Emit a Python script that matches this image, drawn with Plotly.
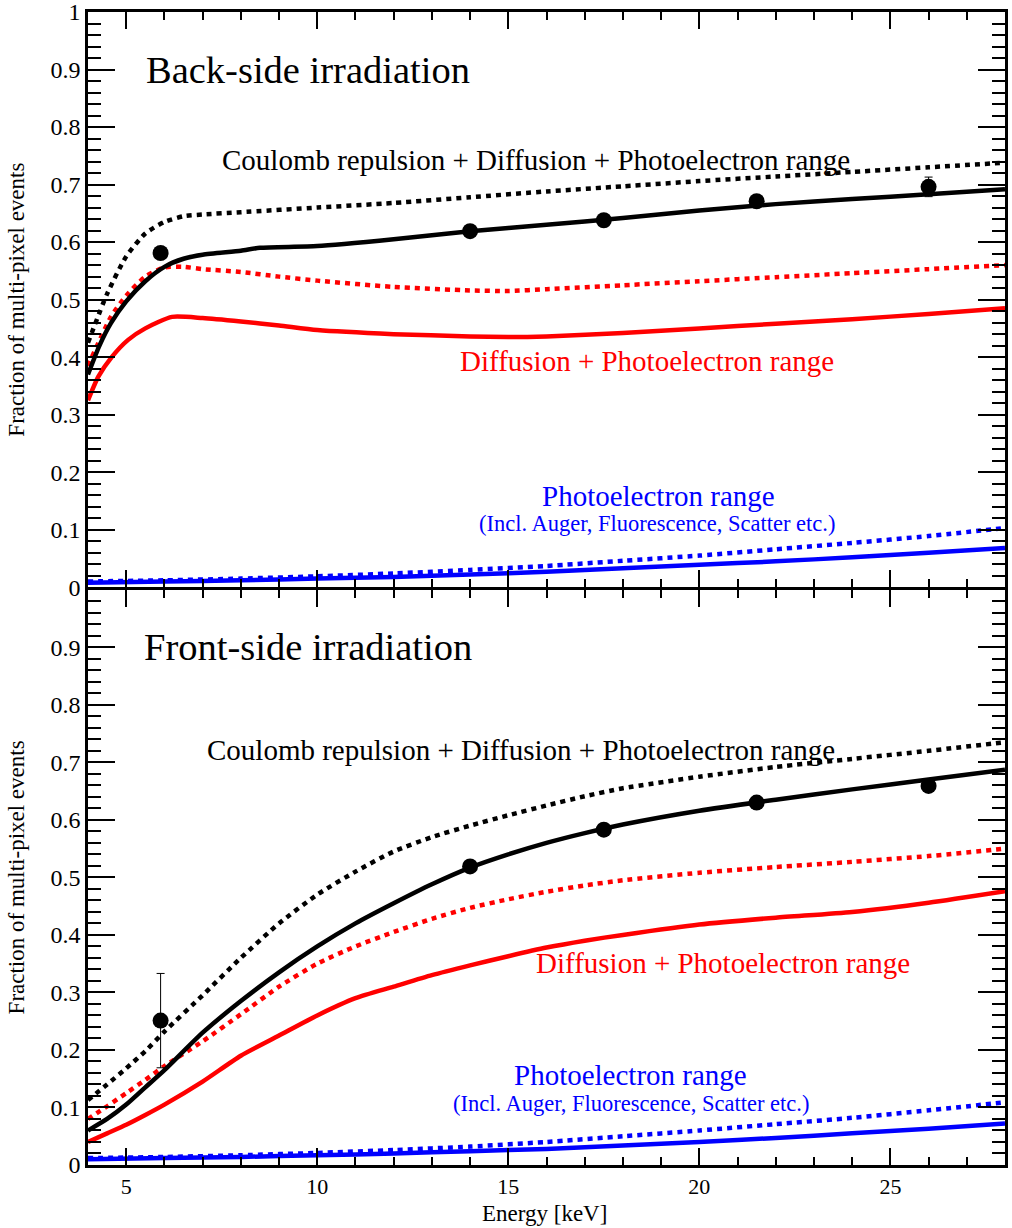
import plotly.graph_objects as go

# ---------------- data ----------------
# Back-side irradiation (top panel)
back_E_data = [5.9, 14.0, 17.5, 21.5, 26.0]
back_frac_data = [0.581, 0.619, 0.638, 0.671, 0.696]
back_frac_err = [0.006, 0.005, 0.005, 0.006, 0.017]

back_E_black_solid = [4, 4.3, 4.6, 5, 5.5, 6, 6.5, 7, 8, 8.5, 10, 12, 14, 16, 18, 20, 22, 24, 26, 28]
back_black_solid = [0.37, 0.42, 0.459, 0.497, 0.532, 0.557, 0.571, 0.578, 0.585, 0.59, 0.593, 0.605, 0.619, 0.63, 0.642, 0.655, 0.666, 0.675, 0.683, 0.692]

back_E_black_dot = [4, 4.5, 5, 5.5, 6, 6.5, 7, 8, 10, 12, 14, 16, 18, 20, 22, 24, 26, 28]
back_black_dot = [0.425, 0.51, 0.575, 0.615, 0.635, 0.645, 0.648, 0.652, 0.66, 0.668, 0.678, 0.688, 0.697, 0.706, 0.714, 0.722, 0.73, 0.738]

back_E_red_dot = [4, 4.6, 5, 5.5, 6, 6.5, 7, 8, 9, 10, 12, 14, 15, 16, 18, 20, 22, 24, 26, 28]
back_red_dot = [0.385, 0.47, 0.507, 0.54, 0.556, 0.557, 0.553, 0.548, 0.54, 0.533, 0.522, 0.516, 0.515, 0.518, 0.525, 0.532, 0.539, 0.546, 0.553, 0.56]

back_E_red_solid = [4, 4.27, 4.62, 5.05, 5.5, 6.2, 7, 8, 9, 10, 12, 14, 15, 16, 18, 20, 22, 24, 26, 28]
back_red_solid = [0.325, 0.366, 0.40, 0.43, 0.45, 0.47, 0.468, 0.462, 0.455, 0.447, 0.44, 0.436, 0.435, 0.436, 0.442, 0.45, 0.458, 0.466, 0.475, 0.485]

back_E_blue = [4, 6, 8, 10, 12, 14, 16, 18, 20, 22, 24, 26, 28]
back_blue_solid = [0.008, 0.01, 0.012, 0.015, 0.018, 0.022, 0.027, 0.033, 0.039, 0.045, 0.052, 0.06, 0.068]
back_blue_dot = [0.01, 0.012, 0.015, 0.019, 0.024, 0.03, 0.037, 0.046, 0.055, 0.066, 0.077, 0.089, 0.103]

# Front-side irradiation (bottom panel)
front_E_data = [5.9, 14.0, 17.5, 21.5, 26.0]
front_frac_data = [0.251, 0.519, 0.583, 0.630, 0.659]
front_frac_err = [0.082, 0.006, 0.006, 0.006, 0.006]

front_E_curve = [4, 4.5, 5, 5.5, 6, 7, 8, 9, 10, 11, 12, 13, 14, 15, 16, 17, 18, 20, 22, 24, 26, 28]
front_black_solid = [0.06, 0.08, 0.105, 0.135, 0.165, 0.23, 0.285, 0.335, 0.38, 0.42, 0.455, 0.488, 0.517, 0.54, 0.56, 0.577, 0.592, 0.616, 0.635, 0.653, 0.67, 0.687]
front_black_dot = [0.113, 0.14, 0.168, 0.198, 0.232, 0.295, 0.36, 0.42, 0.47, 0.51, 0.545, 0.57, 0.59, 0.608, 0.625, 0.641, 0.655, 0.675, 0.692, 0.706, 0.72, 0.735]
front_red_dot = [0.08, 0.102, 0.125, 0.148, 0.172, 0.215, 0.262, 0.31, 0.35, 0.38, 0.405, 0.428, 0.447, 0.462, 0.475, 0.486, 0.495, 0.508, 0.518, 0.527, 0.537, 0.55]
front_red_solid = [0.04, 0.055, 0.07, 0.087, 0.105, 0.145, 0.19, 0.225, 0.26, 0.29, 0.31, 0.33, 0.347, 0.363, 0.378, 0.39, 0.4, 0.418, 0.43, 0.44, 0.456, 0.476]

front_E_blue = [4, 6, 8, 10, 12, 14, 16, 18, 20, 22, 24, 26, 28]
front_blue_solid = [0.01, 0.012, 0.014, 0.017, 0.02, 0.024, 0.028, 0.034, 0.04, 0.047, 0.055, 0.063, 0.072]
front_blue_dot = [0.012, 0.014, 0.017, 0.021, 0.026, 0.032, 0.04, 0.05, 0.06, 0.071, 0.082, 0.095, 0.109]

x_tick_vals = [5, 10, 15, 20, 25]
y_tick_vals_top = [0, 0.1, 0.2, 0.3, 0.4, 0.5, 0.6, 0.7, 0.8, 0.9, 1]
y_tick_vals_bottom = [0, 0.1, 0.2, 0.3, 0.4, 0.5, 0.6, 0.7, 0.8, 0.9]

# ---------------- figure ----------------
FONT = "Liberation Serif, Times New Roman, serif"
BLACK = "#000000"
RED = "#ff0000"
BLUE = "#0000ff"
LW = 4.5
DOT = "5px,5px"

fig = go.Figure()

def add_line(x, y, color, dash, xa, ya):
    fig.add_trace(go.Scatter(x=x, y=y, mode="lines", xaxis=xa, yaxis=ya,
                             line=dict(color=color, width=LW, dash=dash, shape="spline", smoothing=0.6),
                             showlegend=False, hoverinfo="skip"))

# top panel (x2, y2)
add_line(back_E_blue, back_blue_dot, BLUE, DOT, "x2", "y2")
add_line(back_E_blue, back_blue_solid, BLUE, "solid", "x2", "y2")
add_line(back_E_red_dot, back_red_dot, RED, DOT, "x2", "y2")
add_line(back_E_red_solid, back_red_solid, RED, "solid", "x2", "y2")
add_line(back_E_black_dot, back_black_dot, BLACK, DOT, "x2", "y2")
add_line(back_E_black_solid, back_black_solid, BLACK, "solid", "x2", "y2")
fig.add_trace(go.Scatter(x=back_E_data, y=back_frac_data, mode="markers", xaxis="x2", yaxis="y2",
                         marker=dict(color=BLACK, size=16),
                         error_y=dict(type="data", array=back_frac_err, color=BLACK, thickness=1, width=4),
                         showlegend=False))

# bottom panel (x, y)
add_line(front_E_blue, front_blue_dot, BLUE, DOT, "x", "y")
add_line(front_E_blue, front_blue_solid, BLUE, "solid", "x", "y")
add_line(front_E_curve, front_red_dot, RED, DOT, "x", "y")
add_line(front_E_curve, front_red_solid, RED, "solid", "x", "y")
add_line(front_E_curve, front_black_dot, BLACK, DOT, "x", "y")
add_line(front_E_curve, front_black_solid, BLACK, "solid", "x", "y")
fig.add_trace(go.Scatter(x=front_E_data, y=front_frac_data, mode="markers", xaxis="x", yaxis="y",
                         marker=dict(color=BLACK, size=16),
                         error_y=dict(type="data", array=front_frac_err, color=BLACK, thickness=1, width=4),
                         showlegend=False))

xcommon = dict(range=[4, 28], showgrid=False, zeroline=False, showline=True, linecolor=BLACK, linewidth=2.5,
               mirror="allticks", ticks="inside", ticklen=17, tickwidth=2, tickcolor=BLACK,
               tickvals=x_tick_vals, ticklabeloverflow="allow", automargin=False,
               minor=dict(dtick=1, tick0=0, ticks="inside", ticklen=8, tickwidth=2, tickcolor=BLACK, showgrid=False),
               tickfont=dict(family=FONT, size=22, color=BLACK))
ycommon = dict(range=[0, 1], showgrid=False, zeroline=False, showline=True, linecolor=BLACK, linewidth=2.5,
               mirror="allticks", ticks="inside", ticklen=27, tickwidth=2, tickcolor=BLACK, automargin=False,
               ticklabeloverflow="allow",
               minor=dict(dtick=0.02, tick0=0, ticks="inside", ticklen=13, tickwidth=2, tickcolor=BLACK, showgrid=False),
               tickfont=dict(family=FONT, size=24, color=BLACK), ticklabelstandoff=0,
               title=dict(text="Fraction of multi-pixel events", font=dict(family=FONT, size=23, color=BLACK), standoff=20))

fig.update_layout(
    width=1012, height=1228,
    margin=dict(l=88, r=7, t=12, b=63),
    paper_bgcolor="white", plot_bgcolor="white",
    font=dict(family=FONT, color=BLACK),
    xaxis=dict(**xcommon, anchor="y", domain=[0, 1]),
    xaxis2=dict(**xcommon, anchor="y2", matches="x", showticklabels=False),
    yaxis=dict(**ycommon, domain=[0, 0.4989], anchor="x", tickvals=y_tick_vals_bottom,
               ticktext=[f"{v:g}" for v in y_tick_vals_bottom]),
    yaxis2=dict(**ycommon, domain=[0.5011, 1], anchor="x2", tickvals=y_tick_vals_top,
                ticktext=[f"{v:g}" for v in y_tick_vals_top]),
)

# x-axis title (placed close under the tick labels, as in the reference)
fig.add_annotation(text="Energy [keV]", x=0.498, y=-0.0418, xref="paper", yref="paper",
                   showarrow=False, xanchor="center", yanchor="middle",
                   font=dict(family=FONT, size=23, color=BLACK))

def ann(text, x, y, xa, ya, size, color):
    fig.add_annotation(text=text, x=x, y=y, xref=xa, yref=ya, showarrow=False,
                       xanchor="center", yanchor="middle",
                       font=dict(family=FONT, size=size, color=color))

ann("Back-side irradiation", 9.77, 0.899, "x2", "y2", 38.5, BLACK)
ann("Coulomb repulsion + Diffusion + Photoelectron range", 15.72, 0.743, "x2", "y2", 29, BLACK)
ann("Diffusion + Photoelectron range", 18.64, 0.393, "x2", "y2", 29, RED)
ann("Photoelectron range", 18.92, 0.158, "x2", "y2", 29, BLUE)
ann("(Incl. Auger, Fluorescence, Scatter etc.)", 18.9, 0.111, "x2", "y2", 22.5, BLUE)

ann("Front-side irradiation", 9.77, 0.90, "x", "y", 38.5, BLACK)
ann("Coulomb repulsion + Diffusion + Photoelectron range", 15.33, 0.721, "x", "y", 29, BLACK)
ann("Diffusion + Photoelectron range", 20.63, 0.351, "x", "y", 29, RED)
ann("Photoelectron range", 18.2, 0.156, "x", "y", 29, BLUE)
ann("(Incl. Auger, Fluorescence, Scatter etc.)", 18.2, 0.107, "x", "y", 22.5, BLUE)

fig.write_html("out.html")
